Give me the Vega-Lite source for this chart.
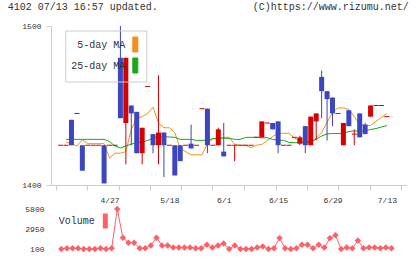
{
  "$schema": "https://vega.github.io/schema/vega-lite/v6.json",
  "background": "white",
  "padding": {"left": 7, "top": 1, "right": 4, "bottom": 4},
  "spacing": 1,
  "resolve": {"scale": {"color": "independent"}, "legend": {"color": "independent"}},
  "config": {
    "font": "Liberation Mono",
    "view": {"stroke": null},
    "axis": {"grid": false, "labelFont": "Liberation Mono", "titleFont": "Liberation Mono"},
    "legend": {"labelFont": "Liberation Mono"}
  },
  "datasets": {
    "candles": [
      {"i": -1, "date": "4/14", "open": 1425, "high": 1425, "low": 1425, "close": 1425},
      {"i": 0, "date": "4/15", "open": 1425, "high": 1425, "low": 1425, "close": 1425},
      {"i": 1, "date": "4/16", "open": 1441, "high": 1441, "low": 1425, "close": 1425},
      {"i": 2, "date": "4/17", "open": 1445, "high": 1445, "low": 1445, "close": 1445},
      {"i": 3, "date": "4/20", "open": 1425, "high": 1425, "low": 1409, "close": 1409},
      {"i": 4, "date": "4/21", "open": 1425, "high": 1425, "low": 1425, "close": 1425},
      {"i": 5, "date": "4/22", "open": 1425, "high": 1425, "low": 1425, "close": 1425},
      {"i": 6, "date": "4/23", "open": 1425, "high": 1425, "low": 1425, "close": 1425},
      {"i": 7, "date": "4/24", "open": 1425, "high": 1425, "low": 1401, "close": 1401},
      {"i": 8, "date": "4/27", "open": 1425, "high": 1425, "low": 1425, "close": 1425},
      {"i": 9, "date": "4/28", "open": 1425, "high": 1425, "low": 1425, "close": 1425},
      {"i": 10, "date": "4/30", "open": 1480, "high": 1500, "low": 1442, "close": 1442},
      {"i": 11, "date": "5/1", "open": 1439, "high": 1480, "low": 1413, "close": 1480},
      {"i": 12, "date": "5/7", "open": 1450, "high": 1450, "low": 1425, "close": 1445},
      {"i": 13, "date": "5/8", "open": 1446, "high": 1446, "low": 1420, "close": 1420},
      {"i": 14, "date": "5/11", "open": 1420, "high": 1436, "low": 1413, "close": 1436},
      {"i": 15, "date": "5/12", "open": 1462, "high": 1462, "low": 1462, "close": 1462},
      {"i": 16, "date": "5/13", "open": 1432, "high": 1432, "low": 1420, "close": 1425},
      {"i": 17, "date": "5/14", "open": 1425, "high": 1469, "low": 1413, "close": 1433},
      {"i": 18, "date": "5/15", "open": 1433, "high": 1433, "low": 1405, "close": 1425},
      {"i": 19, "date": "5/18", "open": 1425, "high": 1425, "low": 1425, "close": 1425},
      {"i": 20, "date": "5/19", "open": 1425, "high": 1425, "low": 1406, "close": 1406},
      {"i": 21, "date": "5/20", "open": 1425, "high": 1425, "low": 1415, "close": 1415},
      {"i": 22, "date": "5/21", "open": 1425, "high": 1425, "low": 1425, "close": 1425},
      {"i": 23, "date": "5/22", "open": 1426, "high": 1438, "low": 1423, "close": 1423},
      {"i": 24, "date": "5/25", "open": 1425, "high": 1425, "low": 1425, "close": 1425},
      {"i": 25, "date": "5/26", "open": 1448, "high": 1448, "low": 1448, "close": 1448},
      {"i": 26, "date": "5/27", "open": 1448, "high": 1448, "low": 1420, "close": 1425},
      {"i": 27, "date": "5/28", "open": 1425, "high": 1425, "low": 1425, "close": 1425},
      {"i": 28, "date": "5/29", "open": 1425, "high": 1436, "low": 1425, "close": 1435},
      {"i": 29, "date": "6/1", "open": 1421, "high": 1439, "low": 1418, "close": 1418},
      {"i": 30, "date": "6/2", "open": 1425, "high": 1425, "low": 1425, "close": 1425},
      {"i": 31, "date": "6/3", "open": 1425, "high": 1425, "low": 1415, "close": 1425},
      {"i": 32, "date": "6/4", "open": 1425, "high": 1425, "low": 1425, "close": 1425},
      {"i": 33, "date": "6/5", "open": 1425, "high": 1425, "low": 1425, "close": 1425},
      {"i": 34, "date": "6/8", "open": 1425, "high": 1425, "low": 1425, "close": 1425},
      {"i": 35, "date": "6/9", "open": 1430, "high": 1430, "low": 1430, "close": 1430},
      {"i": 36, "date": "6/10", "open": 1430, "high": 1440, "low": 1430, "close": 1440},
      {"i": 37, "date": "6/11", "open": 1439, "high": 1439, "low": 1439, "close": 1439},
      {"i": 38, "date": "6/12", "open": 1439, "high": 1439, "low": 1435, "close": 1435},
      {"i": 39, "date": "6/15", "open": 1440, "high": 1440, "low": 1420, "close": 1425},
      {"i": 40, "date": "6/16", "open": 1425, "high": 1425, "low": 1425, "close": 1425},
      {"i": 41, "date": "6/17", "open": 1425, "high": 1425, "low": 1425, "close": 1425},
      {"i": 42, "date": "6/18", "open": 1430, "high": 1430, "low": 1430, "close": 1430},
      {"i": 43, "date": "6/19", "open": 1426, "high": 1431, "low": 1425, "close": 1430},
      {"i": 44, "date": "6/22", "open": 1437, "high": 1437, "low": 1420, "close": 1425},
      {"i": 45, "date": "6/23", "open": 1425, "high": 1443, "low": 1425, "close": 1443},
      {"i": 46, "date": "6/24", "open": 1440, "high": 1445, "low": 1428, "close": 1445},
      {"i": 47, "date": "6/25", "open": 1468, "high": 1472, "low": 1442, "close": 1459},
      {"i": 48, "date": "6/26", "open": 1459, "high": 1459, "low": 1428, "close": 1454},
      {"i": 49, "date": "6/29", "open": 1455, "high": 1455, "low": 1437, "close": 1445},
      {"i": 50, "date": "6/30", "open": 1445, "high": 1445, "low": 1445, "close": 1445},
      {"i": 51, "date": "7/1", "open": 1425, "high": 1439, "low": 1425, "close": 1439},
      {"i": 52, "date": "7/2", "open": 1447, "high": 1447, "low": 1437, "close": 1437},
      {"i": 53, "date": "7/3", "open": 1432, "high": 1435, "low": 1425, "close": 1432},
      {"i": 54, "date": "7/6", "open": 1445, "high": 1445, "low": 1430, "close": 1430},
      {"i": 55, "date": "7/7", "open": 1438, "high": 1439, "low": 1432, "close": 1432},
      {"i": 56, "date": "7/8", "open": 1443, "high": 1450, "low": 1443, "close": 1450},
      {"i": 57, "date": "7/9", "open": 1450, "high": 1450, "low": 1450, "close": 1450},
      {"i": 58, "date": "7/10", "open": 1450, "high": 1450, "low": 1450, "close": 1450},
      {"i": 59, "date": "7/13", "open": 1443, "high": 1443, "low": 1443, "close": 1443}
    ],
    "ma": [
      {"i": 0, "series": "5-day MA", "value": 1427}, {"i": 1, "series": "5-day MA", "value": 1426},
      {"i": 2, "series": "5-day MA", "value": 1424.5}, {"i": 3, "series": "5-day MA", "value": 1428.5},
      {"i": 4, "series": "5-day MA", "value": 1426}, {"i": 5, "series": "5-day MA", "value": 1426},
      {"i": 6, "series": "5-day MA", "value": 1426}, {"i": 7, "series": "5-day MA", "value": 1426},
      {"i": 8, "series": "5-day MA", "value": 1417}, {"i": 9, "series": "5-day MA", "value": 1420},
      {"i": 10, "series": "5-day MA", "value": 1420}, {"i": 11, "series": "5-day MA", "value": 1421},
      {"i": 12, "series": "5-day MA", "value": 1435}, {"i": 13, "series": "5-day MA", "value": 1442},
      {"i": 14, "series": "5-day MA", "value": 1443}, {"i": 15, "series": "5-day MA", "value": 1445},
      {"i": 16, "series": "5-day MA", "value": 1449}, {"i": 17, "series": "5-day MA", "value": 1439},
      {"i": 18, "series": "5-day MA", "value": 1436}, {"i": 19, "series": "5-day MA", "value": 1436},
      {"i": 20, "series": "5-day MA", "value": 1433}, {"i": 21, "series": "5-day MA", "value": 1423},
      {"i": 22, "series": "5-day MA", "value": 1421}, {"i": 23, "series": "5-day MA", "value": 1419},
      {"i": 24, "series": "5-day MA", "value": 1419}, {"i": 25, "series": "5-day MA", "value": 1419},
      {"i": 26, "series": "5-day MA", "value": 1426}, {"i": 27, "series": "5-day MA", "value": 1429},
      {"i": 28, "series": "5-day MA", "value": 1429}, {"i": 29, "series": "5-day MA", "value": 1430},
      {"i": 30, "series": "5-day MA", "value": 1430}, {"i": 31, "series": "5-day MA", "value": 1425.5},
      {"i": 32, "series": "5-day MA", "value": 1425}, {"i": 33, "series": "5-day MA", "value": 1425},
      {"i": 34, "series": "5-day MA", "value": 1423.5}, {"i": 35, "series": "5-day MA", "value": 1425},
      {"i": 36, "series": "5-day MA", "value": 1425.5}, {"i": 37, "series": "5-day MA", "value": 1428},
      {"i": 38, "series": "5-day MA", "value": 1430.5}, {"i": 39, "series": "5-day MA", "value": 1432.5},
      {"i": 40, "series": "5-day MA", "value": 1432.5}, {"i": 41, "series": "5-day MA", "value": 1432.5},
      {"i": 42, "series": "5-day MA", "value": 1429.5}, {"i": 43, "series": "5-day MA", "value": 1428},
      {"i": 44, "series": "5-day MA", "value": 1427}, {"i": 45, "series": "5-day MA", "value": 1427},
      {"i": 46, "series": "5-day MA", "value": 1429.5}, {"i": 47, "series": "5-day MA", "value": 1433},
      {"i": 48, "series": "5-day MA", "value": 1439.5}, {"i": 49, "series": "5-day MA", "value": 1445.5},
      {"i": 50, "series": "5-day MA", "value": 1448.5}, {"i": 51, "series": "5-day MA", "value": 1448.5},
      {"i": 52, "series": "5-day MA", "value": 1447.5}, {"i": 53, "series": "5-day MA", "value": 1443},
      {"i": 54, "series": "5-day MA", "value": 1438}, {"i": 55, "series": "5-day MA", "value": 1437.5},
      {"i": 56, "series": "5-day MA", "value": 1437.5}, {"i": 57, "series": "5-day MA", "value": 1440},
      {"i": 58, "series": "5-day MA", "value": 1442.5}, {"i": 59, "series": "5-day MA", "value": 1445},
      {"i": 0, "series": "25-day MA", "value": 1428.7}, {"i": 1, "series": "25-day MA", "value": 1428.7},
      {"i": 2, "series": "25-day MA", "value": 1428.7}, {"i": 3, "series": "25-day MA", "value": 1428.7},
      {"i": 4, "series": "25-day MA", "value": 1428.7}, {"i": 5, "series": "25-day MA", "value": 1428.7},
      {"i": 6, "series": "25-day MA", "value": 1428.7}, {"i": 7, "series": "25-day MA", "value": 1428.7},
      {"i": 8, "series": "25-day MA", "value": 1427.3}, {"i": 9, "series": "25-day MA", "value": 1424.5},
      {"i": 10, "series": "25-day MA", "value": 1423.3}, {"i": 11, "series": "25-day MA", "value": 1424.5},
      {"i": 12, "series": "25-day MA", "value": 1425.7}, {"i": 13, "series": "25-day MA", "value": 1426.6},
      {"i": 14, "series": "25-day MA", "value": 1427}, {"i": 15, "series": "25-day MA", "value": 1428},
      {"i": 16, "series": "25-day MA", "value": 1429.5}, {"i": 17, "series": "25-day MA", "value": 1430.4},
      {"i": 18, "series": "25-day MA", "value": 1430.4}, {"i": 19, "series": "25-day MA", "value": 1430.2},
      {"i": 20, "series": "25-day MA", "value": 1430}, {"i": 21, "series": "25-day MA", "value": 1428.7},
      {"i": 22, "series": "25-day MA", "value": 1428.7}, {"i": 23, "series": "25-day MA", "value": 1428.7},
      {"i": 24, "series": "25-day MA", "value": 1428.1}, {"i": 25, "series": "25-day MA", "value": 1428.1},
      {"i": 26, "series": "25-day MA", "value": 1428.1}, {"i": 27, "series": "25-day MA", "value": 1429.2},
      {"i": 28, "series": "25-day MA", "value": 1429.4}, {"i": 29, "series": "25-day MA", "value": 1429.4},
      {"i": 30, "series": "25-day MA", "value": 1429.4}, {"i": 31, "series": "25-day MA", "value": 1428.7},
      {"i": 32, "series": "25-day MA", "value": 1428.7}, {"i": 33, "series": "25-day MA", "value": 1429.9},
      {"i": 34, "series": "25-day MA", "value": 1430}, {"i": 35, "series": "25-day MA", "value": 1430},
      {"i": 36, "series": "25-day MA", "value": 1429.7}, {"i": 37, "series": "25-day MA", "value": 1429.7},
      {"i": 38, "series": "25-day MA", "value": 1428.7}, {"i": 39, "series": "25-day MA", "value": 1428.1},
      {"i": 40, "series": "25-day MA", "value": 1428.1}, {"i": 41, "series": "25-day MA", "value": 1426.7},
      {"i": 42, "series": "25-day MA", "value": 1426.6}, {"i": 43, "series": "25-day MA", "value": 1426.6},
      {"i": 44, "series": "25-day MA", "value": 1426.6}, {"i": 45, "series": "25-day MA", "value": 1427},
      {"i": 46, "series": "25-day MA", "value": 1428.9}, {"i": 47, "series": "25-day MA", "value": 1430.8},
      {"i": 48, "series": "25-day MA", "value": 1432.1}, {"i": 49, "series": "25-day MA", "value": 1432.4},
      {"i": 50, "series": "25-day MA", "value": 1432.4}, {"i": 51, "series": "25-day MA", "value": 1432.5},
      {"i": 52, "series": "25-day MA", "value": 1433.6}, {"i": 53, "series": "25-day MA", "value": 1434},
      {"i": 54, "series": "25-day MA", "value": 1434}, {"i": 55, "series": "25-day MA", "value": 1434},
      {"i": 56, "series": "25-day MA", "value": 1434.9}, {"i": 57, "series": "25-day MA", "value": 1435.5},
      {"i": 58, "series": "25-day MA", "value": 1436.5}, {"i": 59, "series": "25-day MA", "value": 1437.4}
    ],
    "volume": [
      {"i": 0, "date": "4/15", "volume": 100}, {"i": 1, "date": "4/16", "volume": 200},
      {"i": 2, "date": "4/17", "volume": 200}, {"i": 3, "date": "4/20", "volume": 200},
      {"i": 4, "date": "4/21", "volume": 100}, {"i": 5, "date": "4/22", "volume": 100},
      {"i": 6, "date": "4/23", "volume": 100}, {"i": 7, "date": "4/24", "volume": 200},
      {"i": 8, "date": "4/27", "volume": 100}, {"i": 9, "date": "4/28", "volume": 200},
      {"i": 10, "date": "4/30", "volume": 5800}, {"i": 11, "date": "5/1", "volume": 1700},
      {"i": 12, "date": "5/7", "volume": 1000}, {"i": 13, "date": "5/8", "volume": 1000},
      {"i": 14, "date": "5/11", "volume": 200}, {"i": 15, "date": "5/12", "volume": 200},
      {"i": 16, "date": "5/13", "volume": 600}, {"i": 17, "date": "5/14", "volume": 1700},
      {"i": 18, "date": "5/15", "volume": 600}, {"i": 19, "date": "5/18", "volume": 600},
      {"i": 20, "date": "5/19", "volume": 300}, {"i": 21, "date": "5/20", "volume": 300},
      {"i": 22, "date": "5/21", "volume": 300}, {"i": 23, "date": "5/22", "volume": 300},
      {"i": 24, "date": "5/25", "volume": 200}, {"i": 25, "date": "5/26", "volume": 200},
      {"i": 26, "date": "5/27", "volume": 700}, {"i": 27, "date": "5/28", "volume": 300},
      {"i": 28, "date": "5/29", "volume": 600}, {"i": 29, "date": "6/1", "volume": 900},
      {"i": 30, "date": "6/2", "volume": 100}, {"i": 31, "date": "6/3", "volume": 600},
      {"i": 32, "date": "6/4", "volume": 100}, {"i": 33, "date": "6/5", "volume": 100},
      {"i": 34, "date": "6/8", "volume": 100}, {"i": 35, "date": "6/9", "volume": 300},
      {"i": 36, "date": "6/10", "volume": 450}, {"i": 37, "date": "6/11", "volume": 100},
      {"i": 38, "date": "6/12", "volume": 200}, {"i": 39, "date": "6/15", "volume": 1650},
      {"i": 40, "date": "6/16", "volume": 200}, {"i": 41, "date": "6/17", "volume": 100},
      {"i": 42, "date": "6/18", "volume": 200}, {"i": 43, "date": "6/19", "volume": 700},
      {"i": 44, "date": "6/22", "volume": 700}, {"i": 45, "date": "6/23", "volume": 200},
      {"i": 46, "date": "6/24", "volume": 700}, {"i": 47, "date": "6/25", "volume": 300},
      {"i": 48, "date": "6/26", "volume": 1650}, {"i": 49, "date": "6/29", "volume": 2050},
      {"i": 50, "date": "6/30", "volume": 100}, {"i": 51, "date": "7/1", "volume": 300},
      {"i": 52, "date": "7/2", "volume": 200}, {"i": 53, "date": "7/3", "volume": 1300},
      {"i": 54, "date": "7/6", "volume": 200}, {"i": 55, "date": "7/7", "volume": 300},
      {"i": 56, "date": "7/8", "volume": 300}, {"i": 57, "date": "7/9", "volume": 200},
      {"i": 58, "date": "7/10", "volume": 300}, {"i": 59, "date": "7/13", "volume": 200}
    ]
  },
  "vconcat": [
    {
      "width": 355,
      "height": 159,
      "encoding": {
        "x": {
          "field": "i",
          "type": "quantitative",
          "scale": {"domain": [-1.843, 61.594], "nice": false, "zero": false},
          "axis": {
            "values": [-1.843, 3.81, 8, 9.71, 15.44, 19, 21.16, 26.89, 29, 32.79, 38.52, 39, 44.24, 49, 49.96, 55.87, 59, 61.594],
            "labelExpr": "{'8': '4/27', '19': '5/18', '29': '6/1', '39': '6/15', '49': '6/29', '59': '7/13'}[datum.value] || ''",
            "labelFontSize": 8,
            "labelColor": "#333333",
            "labelPadding": 6,
            "labelAngle": 0,
            "labelFlush": false,
            "labelOverlap": false,
            "labelBound": false,
            "domainColor": "#cccccc",
            "tickColor": "#cccccc",
            "tickOpacity": {"condition": {"test": "datum.value % 1 != 0", "value": 1}, "value": 0},
            "tickSize": 5,
            "title": "4102 07/13 16:57 updated.",
            "titleX": -43.7,
            "titleY": -175.2,
            "titleAlign": "left",
            "titleAngle": 0,
            "titleBaseline": "alphabetic",
            "titleFontSize": 10,
            "titleFontWeight": "normal",
            "titleColor": "#333333"
          }
        }
      },
      "layer": [
        {
          "data": {"name": "ma"},
          "mark": {"type": "line", "strokeWidth": 1},
          "encoding": {
            "y": {
              "field": "value",
              "type": "quantitative",
              "scale": {"domain": [1400, 1500], "nice": false, "zero": false},
              "axis": {
                "values": [1400, 1500],
                "format": "d",
                "tickSize": 5,
                "labelPadding": 5,
                "domainColor": "#cccccc",
                "tickColor": "#cccccc",
                "labelFontSize": 8,
                "labelColor": "#333333",
                "title": "(C)https://www.rizumu.net/",
                "titleX": 357.3,
                "titleY": -16.2,
                "titleAngle": 0,
                "titleAlign": "right",
                "titleBaseline": "alphabetic",
                "titleFontSize": 10,
                "titleFontWeight": "normal",
                "titleColor": "#333333"
              }
            },
            "color": {
              "field": "series",
              "type": "nominal",
              "scale": {"domain": ["5-day MA", "25-day MA"], "range": ["#f39019", "#18a818"]},
              "legend": {
                "orient": "none",
                "legendX": 14.3,
                "legendY": 4.5,
                "title": null,
                "direction": "vertical",
                "padding": 6,
                "strokeColor": "#cccccc",
                "labelFontSize": 10,
                "labelColor": "#333333",
                "labelAlign": "right",
                "labelOffset": -18,
                "labelLimit": 200,
                "symbolOffset": 56,
                "symbolType": "M-0.333,-1H0.333V1H-0.333Z",
                "symbolSize": 225,
                "symbolStrokeWidth": 1,
                "symbolStrokeColor": "#444444",
                "rowPadding": 1,
                "encode": {
                  "symbols": {
                    "update": {
                      "fill": {"signal": "datum.value === '5-day MA' ? '#f39019' : '#18a818'"},
                      "stroke": {"value": "#444444"},
                      "strokeWidth": {"value": 1},
                      "opacity": {"value": 1}
                    }
                  }
                }
              }
            }
          }
        },
        {
          "data": {"name": "candles"},
          "transform": [{"filter": "datum.high > datum.low"}],
          "mark": {"type": "rule", "strokeWidth": 1},
          "encoding": {
            "y": {"field": "low", "type": "quantitative", "scale": {"domain": [1400, 1500], "nice": false, "zero": false}},
            "y2": {"field": "high"},
            "color": {"condition": {"test": "datum.close >= datum.open", "value": "#d70000"}, "value": "#3c46be"}
          }
        },
        {
          "data": {"name": "candles"},
          "transform": [{"filter": "datum.open != datum.close"}],
          "mark": {"type": "bar", "width": 5},
          "encoding": {
            "y": {"field": "open", "type": "quantitative", "scale": {"domain": [1400, 1500], "nice": false, "zero": false}},
            "y2": {"field": "close"},
            "color": {"condition": {"test": "datum.close >= datum.open", "value": "#d70000"}, "value": "#3c46be"}
          }
        },
        {
          "data": {"name": "candles"},
          "transform": [{"filter": "datum.open == datum.close"}],
          "mark": {"type": "tick", "orient": "horizontal", "size": 5, "thickness": 1, "opacity": 1},
          "encoding": {
            "y": {"field": "close", "type": "quantitative", "scale": {"domain": [1400, 1500], "nice": false, "zero": false}},
            "color": {"value": "#d70000"}
          }
        }
      ]
    },
    {
      "width": 355,
      "height": 40,
      "data": {"name": "volume"},
      "encoding": {
        "x": {
          "field": "i",
          "type": "quantitative",
          "scale": {"domain": [-1.843, 61.594], "nice": false, "zero": false},
          "axis": null
        },
        "y": {
          "field": "volume",
          "type": "quantitative",
          "scale": {"domain": [100, 5800], "nice": false, "zero": false},
          "axis": {
            "values": [100, 2950, 5800],
            "format": "d",
            "domain": false,
            "ticks": false,
            "tickSize": 0,
            "labelPadding": 7,
            "labelFontSize": 8,
            "labelColor": "#333333",
            "title": null
          }
        }
      },
      "layer": [
        {
          "mark": {"type": "line", "color": "#ff6068", "strokeWidth": 1}
        },
        {
          "mark": {"type": "point", "shape": "diamond", "filled": true, "size": 42, "opacity": 1},
          "encoding": {
            "color": {
              "datum": "Volume",
              "type": "nominal",
              "scale": {"domain": ["Volume"], "range": ["#ff6068"]},
              "legend": {
                "orient": "none",
                "legendX": 7.3,
                "legendY": 3.5,
                "title": null,
                "padding": 0,
                "labelFontSize": 10,
                "labelColor": "#333333",
                "labelAlign": "right",
                "labelOffset": -19,
                "symbolOffset": 38.5,
                "symbolType": "M-0.333,-1H0.333V1H-0.333Z",
                "symbolSize": 225,
                "encode": {
                  "symbols": {
                    "update": {
                      "fill": {"value": "#ff6068"},
                      "stroke": {"value": "#444444"},
                      "strokeWidth": {"value": 1},
                      "opacity": {"value": 1}
                    }
                  }
                }
              }
            }
          }
        }
      ]
    }
  ]
}
